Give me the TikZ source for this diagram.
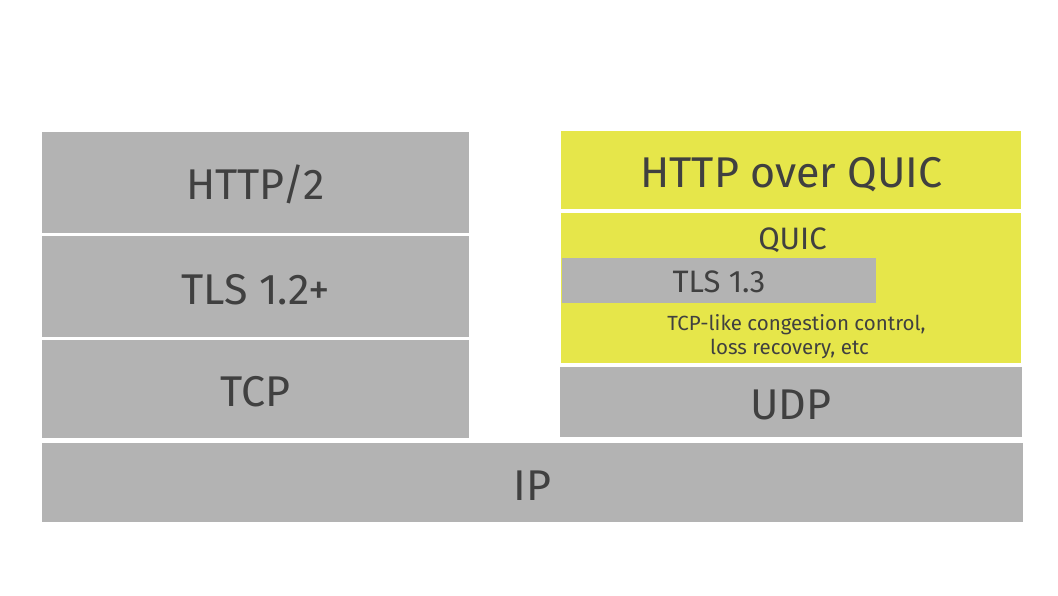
\documentclass[tikz,border=0pt]{standalone}
\usepackage{fontspec}
\setmainfont{Fira Sans}
\definecolor{boxgray}{HTML}{B3B3B3}
\definecolor{boxyellow}{HTML}{E6E64A}
\definecolor{txt}{HTML}{404040}
\tikzset{
  layer/.style={inner sep=0pt, outer sep=0pt},
  graylayer/.style={layer, fill=boxgray},
  yellowlayer/.style={layer, fill=boxyellow},
  lbl/.style={inner sep=0pt, outer sep=0pt, text=txt, anchor=base},
  biglbl/.style={lbl, font=\fontsize{43}{52}\selectfont},
  midlbl/.style={lbl, font=\fontsize{31}{37}\selectfont},
  smalllbl/.style={lbl, font=\fontsize{20.5}{24}\selectfont},
}
\begin{document}
\begin{tikzpicture}[x=1pt,y=-1pt]
\useasboundingbox (0,0) rectangle (1058,595);
% left stack
\node (http2) [graylayer, minimum width=427pt, minimum height=101pt] at (255.5,182.5) {};
\node (tls12) [graylayer, minimum width=427pt, minimum height=101pt] at (255.5,286.5) {};
\node (tcp) [graylayer, minimum width=427pt, minimum height=98pt] at (255.5,389) {};
% right stack
\node (hoq) [yellowlayer, minimum width=460pt, minimum height=78pt] at (791,170) {};
\node (quic) [yellowlayer, minimum width=460pt, minimum height=150pt] at (791,288) {};
\node (tls13) [graylayer, minimum width=314pt, minimum height=45pt] at (719,280.5) {};
\node (udp) [graylayer, minimum width=462pt, minimum height=70pt] at (791,402) {};
% bottom
\node (ip) [graylayer, minimum width=981pt, minimum height=79pt] at (532.5,482.5) {};
% labels
\node (http2t) [biglbl] at (255.5,199.5) {HTTP/2};
\node (tls12t) [biglbl] at (255.5,304) {TLS 1.2+};
\node (tcpt) [biglbl] at (255.5,406) {TCP};
\node (hoqt) [biglbl] at (791.5,187.5) {HTTP over QUIC};
\node (quict) [midlbl] at (792.5,249) {QUIC};
\node (tls13t) [midlbl] at (719,292) {TLS 1.3};
\node (cc1) [smalllbl] at (796.5,330.5) {TCP-like congestion control,};
\node (cc2) [smalllbl] at (789.5,354) {loss recovery, etc};
\node (udpt) [biglbl] at (791,419.5) {UDP};
\node (ipt) [biglbl] at (532.5,500) {IP};
\end{tikzpicture}
\end{document}
